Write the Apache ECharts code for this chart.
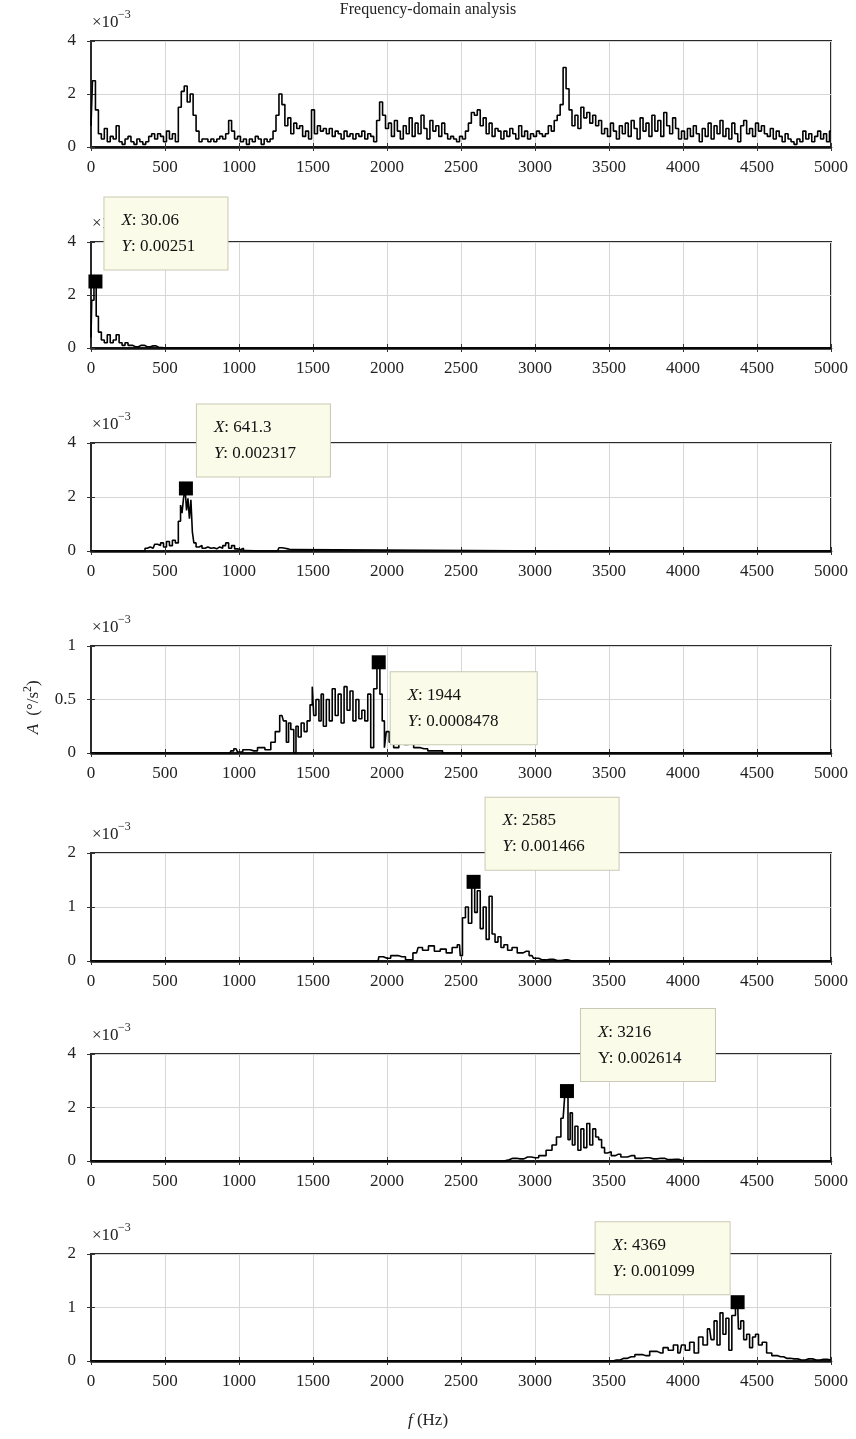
<!DOCTYPE html>
<html><head><meta charset="utf-8">
<script src="https://cdn.jsdelivr.net/npm/echarts@6/dist/echarts.min.js"></script>
<style>html,body{margin:0;padding:0;background:#fff}#c{width:856px;height:1439px}</style>
</head><body><div id="c"></div>
<script>
// ---------- DATA (amplitudes in units of 1e-3 °/s²) ----------
const titleText = 'Frequency-domain analysis';
const xTickMax = 5000, xTickStep = 500;
const yMaxes = [4, 4, 4, 1, 2, 4, 2];
const yIntervals = [2, 2, 2, 0.5, 1, 2, 1];

// Panel 1: full spectrum, sampled every 20 Hz from 0 Hz
const s1Start = 0, s1Step = 20;
const s1Amp = [
  0.8,2.5,1.4,0.5,0.3,0.7,0.2,0.4,0.3,0.8,
  0.2,0.1,0.3,0.4,0.2,0.1,0.3,0.2,0.1,0.2,
  0.4,0.5,0.3,0.5,0.4,0.2,0.6,0.3,0.5,0.2,
  1.5,2.1,2.3,1.7,2.0,1.2,0.6,0.2,0.3,0.3,
  0.2,0.3,0.2,0.3,0.4,0.3,0.5,1.0,0.6,0.3,
  0.4,0.2,0.3,0.1,0.3,0.2,0.4,0.3,0.1,0.3,
  0.2,0.3,0.6,1.2,2.0,1.6,0.8,1.1,0.5,0.9,
  0.7,0.8,0.4,0.6,0.3,1.4,0.5,0.8,0.6,0.7,
  0.5,0.7,0.4,0.6,0.5,0.3,0.6,0.4,0.5,0.3,
  0.5,0.4,0.6,0.3,0.5,0.4,0.2,1.0,1.7,1.2,
  0.7,0.9,0.4,1.0,0.6,0.3,0.8,0.5,1.1,0.4,
  0.9,0.5,1.2,0.7,0.3,1.0,0.6,0.8,0.4,0.9,
  0.5,0.3,0.4,0.3,0.2,0.4,0.3,0.6,0.9,1.3,
  1.2,1.4,0.8,1.1,0.5,0.9,0.4,0.7,0.6,0.3,
  0.6,0.4,0.7,0.5,0.3,0.8,0.4,0.6,0.3,0.5,
  0.4,0.6,0.5,0.4,0.5,0.8,0.6,1.0,1.2,1.6,
  3.0,2.2,1.4,0.8,1.2,0.7,1.5,1.1,1.3,0.9,
  1.2,0.8,1.0,0.5,0.7,0.4,0.9,0.6,0.3,0.8,
  0.5,0.9,0.4,1.0,0.7,0.3,1.1,0.6,0.9,0.4,
  1.2,0.6,1.0,0.4,1.3,0.8,0.5,1.1,0.7,0.3,
  0.6,0.3,0.7,0.4,0.8,0.5,0.2,0.7,0.4,0.9,
  0.3,0.8,0.5,1.0,0.4,0.7,0.3,0.9,0.5,0.2,
  0.8,1.0,0.5,0.7,0.4,0.9,0.6,0.8,0.5,0.4,
  0.7,0.3,0.6,0.4,0.2,0.5,0.3,0.2,0.1,0.3,
  0.2,0.6,0.3,0.5,0.2,0.4,0.6,0.3,0.5,0.2,
  0.6
];

// Panels 2-7: [frequency Hz, amplitude]
const s2 = [[0,0.4],[10,1.8],[30.06,2.51],[40,1.2],[60,0.6],[80,0.3],[100,0.2],[120,0.5],[140,0.2],[160,0.3],[180,0.5],[200,0.2],[220,0.1],[240,0.2],[260,0.1],[300,0.05],[340,0.1],[380,0.05],[420,0.08],[460,0.02],[500,0],[5000,0]];

const s3 = [[0,0],[350,0],[380,0.1],[400,0.15],[420,0.1],[440,0.25],[460,0.2],[480,0.3],[500,0.15],[520,0.35],[540,0.2],[560,0.4],[580,0.3],[600,1.1],[610,1.7],[620,1.4],[630,1.95],[641.3,2.317],[650,1.5],[660,1.95],[670,1.2],[680,1.9],[690,0.7],[700,0.3],[720,0.15],[740,0.2],[760,0.1],[780,0.15],[800,0.1],[820,0.12],[840,0.08],[860,0.15],[880,0.1],[900,0.2],[920,0.3],[940,0.1],[960,0.2],[980,0.08],[1000,0.05],[1020,0.1],[1040,0.02],[1060,0],[1260,0],[1280,0.12],[1300,0.1],[1320,0.08],[1340,0.05],[1360,0],[5000,0]];

const s4 = [[0,0],[940,0],[950,0.02],[980,0.04],[1000,0.01],[1050,0.03],[1100,0.02],[1150,0.05],[1200,0.03],[1230,0.1],[1260,0.2],[1290,0.35],[1310,0.3],[1330,0.1],[1340,0.28],[1360,0.22],[1380,0.0],[1390,0.25],[1410,0.15],[1430,0.28],[1450,0.2],[1470,0.3],[1490,0.45],[1500,0.62],[1510,0.35],[1530,0.5],[1550,0.3],[1560,0.55],[1580,0.25],[1600,0.5],[1620,0.3],[1640,0.6],[1660,0.35],[1680,0.55],[1700,0.28],[1720,0.62],[1740,0.4],[1760,0.58],[1780,0.3],[1800,0.5],[1820,0.32],[1840,0.4],[1860,0.3],[1880,0.55],[1900,0.05],[1920,0.6],[1944,0.8478],[1960,0.55],[1975,0.3],[1990,0.05],[2000,0.2],[2030,0.1],[2060,0.05],[2100,0.12],[2130,0.08],[2160,0.1],[2200,0.05],[2250,0.04],[2300,0.02],[2350,0.02],[2400,0],[5000,0]];

const s5 = [[0,0],[1940,0],[1950,0.08],[2000,0.05],[2050,0.1],[2100,0.08],[2150,0.02],[2200,0.15],[2220,0.25],[2260,0.2],[2300,0.28],[2340,0.18],[2380,0.22],[2420,0.15],[2460,0.25],[2490,0.3],[2500,0.1],[2520,0.8],[2540,1.0],[2560,0.7],[2585,1.466],[2600,0.9],[2620,1.3],[2640,0.6],[2660,1.0],[2680,0.4],[2700,1.2],[2720,0.5],[2740,0.35],[2760,0.45],[2780,0.25],[2800,0.3],[2830,0.2],[2860,0.25],[2900,0.15],[2940,0.18],[2980,0.1],[3000,0.05],[3050,0.02],[3100,0.03],[3150,0.01],[3200,0.02],[3250,0],[5000,0]];

const s6 = [[0,0],[2790,0],[2800,0.05],[2850,0.1],[2900,0.08],[2950,0.15],[3000,0.12],[3050,0.2],[3100,0.4],[3130,0.6],[3160,0.9],[3190,1.6],[3216,2.614],[3230,0.8],[3245,1.8],[3260,0.6],[3280,1.3],[3300,0.4],[3320,1.2],[3340,0.5],[3360,1.4],[3380,0.6],[3400,1.2],[3420,0.9],[3440,0.8],[3460,0.5],[3480,0.3],[3500,0.35],[3530,0.2],[3560,0.25],[3600,0.15],[3650,0.2],[3700,0.1],[3750,0.12],[3800,0.08],[3850,0.1],[3900,0.05],[3950,0.06],[4000,0.02],[4010,0],[5000,0]];

const s7 = [[0,0],[3500,0],[3550,0.02],[3600,0.05],[3650,0.08],[3700,0.12],[3750,0.1],[3800,0.18],[3850,0.15],[3880,0.25],[3920,0.2],[3950,0.3],[3980,0.15],[4000,0.3],[4030,0.2],[4060,0.35],[4090,0.15],[4120,0.45],[4150,0.3],[4180,0.6],[4200,0.4],[4220,0.75],[4240,0.3],[4260,0.9],[4280,0.5],[4300,0.8],[4320,0.2],[4340,0.85],[4369,1.099],[4380,0.6],[4400,0.75],[4420,0.4],[4440,0.5],[4460,0.25],[4480,0.45],[4500,0.5],[4520,0.3],[4550,0.35],[4580,0.15],[4620,0.1],[4660,0.08],[4700,0.05],[4750,0.04],[4800,0.02],[4850,0.04],[4900,0.02],[4950,0.03],[5000,0.02]];

// Data tips (panels 2..7)
const tipX = [30.06, 641.3, 1944, 2585, 3216, 4369];
const tipY = [0.00251, 0.002317, 0.0008478, 0.001466, 0.002614, 0.001099];

// ---------- LAYOUT / STYLE ----------
const FONT = 'Liberation Serif';
const panelTops = [41, 242, 443, 646, 853, 1054, 1254];
const panelHeights = [106, 106, 108, 107, 108, 107, 107];
const tipBox = [
  {pos:[16,-77], w:124, yItal:true},
  {pos:[18,-77], w:134, yItal:true},
  {pos:[19,17],  w:147, yItal:true},
  {pos:[19,-77], w:134, yItal:true},
  {pos:[21,-75], w:135, yItal:false},
  {pos:[-135,-73], w:135, yItal:true}
];

const s1 = s1Amp.map((v, k) => [s1Start + k * s1Step, v]);
const seriesData = [s1, s2, s3, s4, s5, s6, s7];

const option = {animation:false, grid:[], xAxis:[], yAxis:[], series:[], graphic:[]};
const txt = {fontFamily: FONT, fontSize: 17, color: '#222'};
const plain = v => String(v);

seriesData.forEach((data, i) => {
  const top = panelTops[i], h = panelHeights[i];
  option.grid.push({left:91, right:25, top:top, height:h, show:true, borderColor:'#2a2a2a', borderWidth:2, backgroundColor:'#fff'});
  option.xAxis.push({type:'value', gridIndex:i, min:0, max:xTickMax, interval:xTickStep,
    axisLine:{show:true, onZero:false, lineStyle:{color:'#111', width:2.5}},
    axisTick:{show:true, inside:true, length:4, lineStyle:{color:'#333'}},
    axisLabel:Object.assign({margin:12, formatter:plain}, txt),
    splitLine:{show:true, lineStyle:{color:'#d6d6d6', width:1}}});
  option.xAxis.push({type:'value', gridIndex:i, position:'top', min:0, max:xTickMax, interval:xTickStep,
    axisLine:{show:false}, axisTick:{show:true, inside:true, length:4, lineStyle:{color:'#333'}},
    axisLabel:{show:false}, splitLine:{show:false}});
  option.yAxis.push({type:'value', gridIndex:i, min:0, max:yMaxes[i], interval:yIntervals[i],
    axisLine:{show:true, lineStyle:{color:'#2a2a2a', width:2}},
    axisTick:{show:true, inside:true, length:4, lineStyle:{color:'#333'}},
    axisLabel:Object.assign({margin:15, formatter:plain}, txt),
    splitLine:{show:true, lineStyle:{color:'#d6d6d6', width:1}}});
  option.yAxis.push({type:'value', gridIndex:i, position:'right', min:0, max:yMaxes[i], interval:yIntervals[i],
    axisLine:{show:false}, axisTick:{show:true, inside:true, length:4, lineStyle:{color:'#333'}},
    axisLabel:{show:false}, splitLine:{show:false}});

  const s = {type:'line', xAxisIndex:2*i, yAxisIndex:2*i, data:data, symbol:'none', showSymbol:false,
    step:'middle', lineStyle:{color:'#000', width:1.6}, z:3, silent:true};
  if (i > 0) {
    const j = i - 1, b = tipBox[j];
    const yLabel = b.yItal ? '{i|Y}{n|: ' + tipY[j] + '}' : '{n|Y: ' + tipY[j] + '}';
    s.markPoint = {symbol:'rect', symbolSize:14, silent:true, itemStyle:{color:'#000'},
      data:[{coord:[tipX[j], tipY[j] * 1000],
        label:{show:true, position:b.pos, align:'left', verticalAlign:'top',
          formatter:'{i|X}{n|: ' + tipX[j] + '}\n' + yLabel,
          backgroundColor:'#fbfbe9', borderColor:'#c9c9b4', borderWidth:1,
          padding:[10, 6, 10, 17], width:b.w - 24, lineHeight:26,
          rich:{i:{fontFamily:FONT, fontSize:17, fontStyle:'italic', color:'#111', lineHeight:26},
                n:{fontFamily:FONT, fontSize:17, color:'#111', lineHeight:26}}}}]};
  }
  option.series.push(s);

  // ×10^-3 exponent label
  option.graphic.push({type:'text', left:92, top:top - 27, z:1,
    style:{text:'×10', fontFamily:FONT, fontSize:17, fill:'#222'}});
  option.graphic.push({type:'text', left:118, top:top - 32, z:1,
    style:{text:'−3', fontFamily:FONT, fontSize:12, fill:'#222'}});
});

option.graphic.push({type:'text', x:428, y:10, style:{text:titleText, fontFamily:FONT, fontSize:16, fill:'#222', align:'center', verticalAlign:'middle'}});
option.graphic.push({type:'text', x:428, y:1421, style:{
  text:'{i|f} (Hz)', align:'center', verticalAlign:'middle', fontFamily:FONT, fontSize:17, fill:'#222',
  rich:{i:{fontFamily:FONT, fontSize:17, fontStyle:'italic', fill:'#222'}}}});
// Y axis name: A (°/s²), rotated
option.graphic.push({type:'group', x:34, y:701, rotation:Math.PI/2, children:[
  {type:'text', x:-28, y:0, style:{text:'A', fontFamily:FONT, fontSize:17, fontStyle:'italic', fill:'#222', align:'center', verticalAlign:'middle'}},
  {type:'text', x:-19, y:0, style:{text:' (°/s', fontFamily:FONT, fontSize:17, fill:'#222', align:'left', verticalAlign:'middle'}},
  {type:'text', x:9, y:-6, style:{text:'2', fontFamily:FONT, fontSize:12, fill:'#222', align:'left', verticalAlign:'middle'}},
  {type:'text', x:15, y:0, style:{text:')', fontFamily:FONT, fontSize:17, fill:'#222', align:'left', verticalAlign:'middle'}}
]});

const chart = echarts.init(document.getElementById('c'), null, {renderer:'canvas'});
chart.setOption(option);
</script></body></html>
